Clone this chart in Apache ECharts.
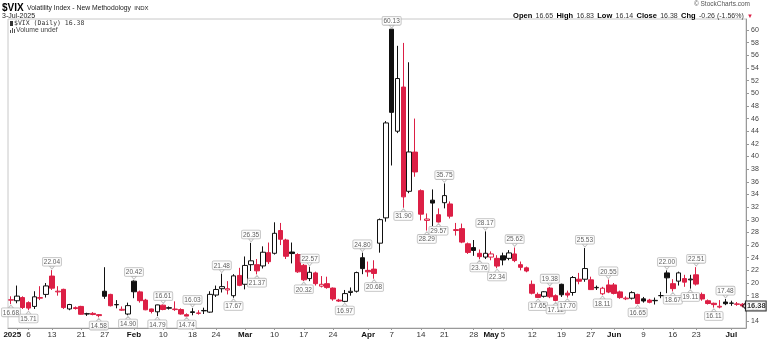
<!DOCTYPE html>
<html><head><meta charset="utf-8">
<script src="https://cdn.jsdelivr.net/npm/echarts@6/dist/echarts.min.js"></script>
<style>html,body{margin:0;padding:0;background:#fff}#c{width:767px;height:339px}</style>
</head><body><div id="c"></div>
<script>
const dates = [
'2024-12-31',
'2025-01-02','2025-01-03','2025-01-06','2025-01-07','2025-01-08','2025-01-10','2025-01-13','2025-01-14','2025-01-15','2025-01-16','2025-01-17','2025-01-21','2025-01-22','2025-01-23','2025-01-24','2025-01-27','2025-01-28','2025-01-29','2025-01-30','2025-01-31',
'2025-02-03','2025-02-04','2025-02-05','2025-02-06','2025-02-07','2025-02-10','2025-02-11','2025-02-12','2025-02-13','2025-02-14','2025-02-18','2025-02-19','2025-02-20','2025-02-21','2025-02-24','2025-02-25','2025-02-26','2025-02-27','2025-02-28',
'2025-03-03','2025-03-04','2025-03-05','2025-03-06','2025-03-07','2025-03-10','2025-03-11','2025-03-12','2025-03-13','2025-03-14','2025-03-17','2025-03-18','2025-03-19','2025-03-20','2025-03-21','2025-03-24','2025-03-25','2025-03-26','2025-03-27','2025-03-28','2025-03-31',
'2025-04-01','2025-04-02','2025-04-03','2025-04-04','2025-04-07','2025-04-08','2025-04-09','2025-04-10','2025-04-11','2025-04-14','2025-04-15','2025-04-16','2025-04-17','2025-04-21','2025-04-22','2025-04-23','2025-04-24','2025-04-25','2025-04-28','2025-04-29','2025-04-30',
'2025-05-01','2025-05-02','2025-05-05','2025-05-06','2025-05-07','2025-05-08','2025-05-09','2025-05-12','2025-05-13','2025-05-14','2025-05-15','2025-05-16','2025-05-19','2025-05-20','2025-05-21','2025-05-22','2025-05-23','2025-05-27','2025-05-28','2025-05-29','2025-05-30',
'2025-06-02','2025-06-03','2025-06-04','2025-06-05','2025-06-06','2025-06-09','2025-06-10','2025-06-11','2025-06-12','2025-06-13','2025-06-16','2025-06-17','2025-06-18','2025-06-20','2025-06-23','2025-06-24','2025-06-25','2025-06-26','2025-06-27','2025-06-30',
'2025-07-01','2025-07-02','2025-07-03'];

const opens = [17.30,
17.20,17.70,16.90,16.30,17.60,18.20,21.10,18.60,19.00,15.90,16.10,16.30,15.15,15.20,15.00,18.70,18.20,16.60,15.70,15.10,
20.30,18.60,17.30,15.90,15.45,16.50,16.10,15.80,15.80,15.00,15.45,15.20,15.60,15.40,18.10,19.10,18.90,18.00,21.20,
19.80,22.90,22.90,22.70,24.80,24.70,28.30,26.80,24.90,24.50,22.80,20.70,21.60,19.50,19.90,19.20,17.30,17.10,18.50,18.70,24.00,
22.00,22.20,26.30,30.30,60.13,44.00,50.98,34.50,40.70,34.60,29.90,33.10,30.80,32.70,32.50,28.30,28.60,26.20,25.60,24.70,24.10,
24.10,23.90,24.30,23.90,24.60,22.90,22.40,19.80,18.20,17.90,19.20,18.00,19.80,18.40,18.50,20.60,20.60,20.50,19.25,18.30,19.70,
19.70,18.60,17.50,17.60,18.20,17.50,17.30,17.20,18.00,21.60,19.90,20.30,20.70,20.50,21.30,18.20,17.20,16.80,16.20,17.00,
16.80,16.70,16.65];
const highs = [17.90,
19.60,17.90,17.10,18.70,19.50,20.00,22.04,19.50,19.10,16.70,16.30,16.40,15.30,15.40,15.10,22.50,18.30,17.30,16.30,16.90,
20.42,18.80,17.50,15.95,16.58,16.61,16.30,17.10,16.00,15.20,16.03,15.70,16.10,18.70,19.60,21.48,20.30,21.40,22.40,
24.20,26.35,23.80,25.80,26.40,29.60,29.50,27.00,26.40,24.70,23.00,22.57,21.80,21.10,21.00,19.30,17.50,18.90,19.30,21.80,24.80,
23.40,23.60,30.20,45.60,60.13,57.50,57.96,54.90,46.00,34.80,31.00,34.80,31.80,35.75,32.90,29.50,29.40,26.40,26.80,25.30,28.17,
25.00,24.40,24.80,25.20,25.62,23.40,22.60,20.40,18.50,18.70,19.38,18.20,19.90,18.80,21.10,21.60,25.53,21.00,19.60,19.40,20.55,
20.00,18.80,17.90,18.70,18.30,17.80,17.50,17.70,18.60,22.00,20.60,21.80,21.30,21.30,22.51,18.50,17.40,16.90,17.30,17.48,
17.20,17.00,16.83];
const lows = [16.68,
16.80,15.90,15.71,15.90,17.30,17.70,18.90,18.00,15.90,15.70,15.80,15.00,14.80,14.90,14.58,17.50,16.30,16.00,15.60,14.90,
17.60,16.90,15.70,15.20,14.79,15.70,15.80,15.60,15.00,14.74,14.90,15.00,15.10,15.30,17.80,18.50,18.20,17.67,19.50,
19.00,21.90,21.37,22.30,23.00,24.50,26.00,23.80,23.10,21.60,20.32,20.30,19.60,19.30,19.10,17.20,17.00,16.97,18.00,18.50,21.40,
21.00,20.68,24.80,29.70,38.58,43.70,31.90,34.20,36.80,29.90,28.29,29.00,29.57,31.80,30.20,27.50,26.30,24.60,24.30,23.76,23.80,
23.60,22.34,22.80,23.60,23.30,22.00,21.70,18.20,17.65,17.70,17.60,17.12,17.80,17.70,18.00,19.80,20.20,18.90,18.90,18.11,18.40,
18.20,17.50,17.30,17.40,16.65,16.90,16.80,16.60,17.60,18.40,18.67,19.60,19.40,19.11,19.60,17.20,16.60,16.11,16.00,16.50,
16.40,16.40,16.14];
const closes = [17.35,
17.93,16.13,16.04,17.82,17.70,19.54,19.19,18.71,16.12,16.60,15.97,15.06,15.10,15.02,14.85,17.90,16.41,16.56,15.84,16.43,
18.62,17.21,15.77,15.50,16.54,15.81,16.02,15.89,15.10,14.77,15.35,15.27,15.66,18.21,18.98,19.43,19.10,21.13,19.63,
22.78,23.51,21.93,24.87,23.37,27.86,26.92,24.23,24.66,21.77,20.51,21.70,19.90,19.80,19.28,17.48,17.15,18.33,18.69,21.65,22.28,
21.77,21.51,30.02,45.31,46.98,52.33,33.62,40.72,37.56,30.89,30.12,32.64,29.65,33.82,30.57,28.45,26.47,24.84,25.15,24.17,24.70,
24.60,22.68,23.64,24.76,23.55,22.48,21.90,18.39,17.72,18.62,17.83,17.24,18.14,18.09,20.87,20.28,22.29,18.96,19.31,19.18,18.57,
18.36,17.69,17.61,18.48,16.77,17.16,16.95,17.26,18.02,20.82,19.11,21.60,20.14,20.62,19.83,17.48,16.76,16.59,16.32,16.73,
16.83,16.64,16.38];
const prevClose = 17.40;

const yTicks = [14,16,18,20,22,24,26,28,30,32,34,36,38,40,42,44,46,48,50,52,54,56,58,60];
const tickDates = ['2025-01-02','2025-01-06','2025-01-13','2025-01-21','2025-01-27','2025-02-03','2025-02-10','2025-02-18','2025-02-24',
'2025-03-03','2025-03-10','2025-03-17','2025-03-24','2025-04-01','2025-04-07','2025-04-14','2025-04-21','2025-04-28','2025-05-01','2025-05-05',
'2025-05-12','2025-05-19','2025-05-27','2025-06-02','2025-06-09','2025-06-16','2025-06-23','2025-07-01'];
const tickTexts = ['2025','6','13','21','27','Feb','10','18','24','Mar','10','17','24','Apr','7','14','21','28','May','5','12','19','27','Jun','9','16','23','Jul'];

const annHighDates = ['2025-01-13','2025-02-03','2025-02-10','2025-02-18','2025-02-25','2025-03-04','2025-03-18','2025-03-31','2025-04-07','2025-04-21',
'2025-04-30','2025-05-07','2025-05-15','2025-05-23','2025-05-30','2025-06-13','2025-06-23','2025-06-30'];
const annLowDates = ['2024-12-31','2025-01-06','2025-01-24','2025-01-31','2025-02-07','2025-02-14','2025-02-27','2025-03-05','2025-03-17','2025-03-26',
'2025-04-02','2025-04-09','2025-04-15','2025-04-17','2025-04-29','2025-05-02','2025-05-13','2025-05-16','2025-05-20','2025-05-29','2025-06-06',
'2025-06-16','2025-06-20','2025-06-26'];

const quote = {open:'16.65', high:'16.83', low:'16.14', close:'16.38', chg:'-0.26 (-1.56%)'};

const RED = '#dc1f45', BLK = '#111';
const candleData = dates.map((d,i)=>{
  const o=opens[i], c=closes[i], l=lows[i], h=highs[i];
  const pc = i===0 ? prevClose : closes[i-1];
  const col = c >= pc ? BLK : RED;
  const fill = c > o ? '#fff' : col;
  return {value:[o,c,l,h], itemStyle:{color:fill,color0:fill,borderColor:col,borderColor0:col,borderWidth:1}};
});
const idxOf = {}; dates.forEach((d,i)=>idxOf[d]=i);
const highPts = annHighDates.map(d=>[d, highs[idxOf[d]]]);
const lowPts = annLowDates.map(d=>[d, lows[idxOf[d]]]);
const tickMap = {}; tickDates.forEach((d,i)=>tickMap[d]=tickTexts[i]);
const lastDate = dates[dates.length-1], lastClose = closes[closes.length-1];

const FONT = '"Liberation Sans", Arial, sans-serif';
const annLabel = {show:true, fontSize:6.5, lineHeight:7, fontFamily:FONT, color:'#333', backgroundColor:'#fff', borderColor:'#b0b0b0', borderWidth:0.8,
  borderRadius:1, padding:[1,1,0,1], formatter:p=>p.value[1].toFixed(2)};

const chart = echarts.init(document.getElementById('c'));
chart.setOption({
  animation:false,
  backgroundColor:'#fff',
  grid:{left:8, top:19, width:738, height:309, show:true, borderColor:'#c8c8c8', borderWidth:1},
  xAxis:{type:'category', data:dates, boundaryGap:true,
    axisLine:{lineStyle:{color:'#999'}},
    axisTick:{show:true, length:2, alignWithLabel:true, interval:(i,v)=>v in tickMap, lineStyle:{color:'#999'}},
    axisLabel:{interval:(i,v)=>v in tickMap, margin:3, fontSize:8, fontFamily:FONT, color:'#333',
      formatter:v=>{const t=tickMap[v]||''; return /^\d+$/.test(t)&&t.length<4 ? t : (t.length===4 ? '{y|'+t+'}' : '{m|'+t+'}');},
      rich:{m:{fontWeight:'bold', fontSize:8, fontFamily:FONT, color:'#111'},
            y:{fontWeight:'bold', fontSize:8, fontFamily:FONT, color:'#111', padding:[0,9,0,0]}}},
    splitLine:{show:false}},
  yAxis:{type:'value', position:'right', min:12.89, max:61.74, scale:true,
    axisLine:{show:true, lineStyle:{color:'#999'}},
    axisTick:{show:true, length:3, customValues:yTicks, lineStyle:{color:'#999'}},
    axisLabel:{customValues:yTicks, fontSize:7, fontFamily:FONT, color:'#444', margin:5},
    splitLine:{show:false}},
  series:[
    {type:'candlestick', name:'$VIX', data:candleData, barWidth:5},
    {type:'scatter', name:'hi', data:highPts, symbol:'triangle', symbolRotate:180, symbolSize:[5,3], symbolOffset:[0,-2.5],
      itemStyle:{color:'#fff', borderColor:'#b0b0b0', borderWidth:0.8}, label:Object.assign({position:'top', distance:0}, annLabel), z:5},
    {type:'scatter', name:'lo', data:lowPts, symbol:'triangle', symbolSize:[5,3], symbolOffset:[0,2.5],
      itemStyle:{color:'#fff', borderColor:'#b0b0b0', borderWidth:0.8}, label:Object.assign({position:'bottom', distance:0}, annLabel), z:5},
    {type:'scatter', name:'last', data:[[lastDate, lastClose]], symbol:'triangle', symbolRotate:90, symbolSize:[6,3], symbolOffset:[1,0],
      itemStyle:{color:'#fff', borderColor:'#000', borderWidth:1}, clip:false, z:10,
      label:{show:true, position:'right', distance:0, formatter:p=>p.value[1].toFixed(2), fontSize:7.5, fontWeight:'bold', fontFamily:FONT,
        color:'#000', backgroundColor:'#fff', borderColor:'#000', borderWidth:1, padding:[1,0,0,1]}}
  ],
  graphic:[
    {type:'text', left:2, top:2, style:{text:'{a|$VIX} {b|Volatility Index - New Methodology} {c|INDX}',
      rich:{a:{fontSize:10, fontWeight:'bold', fontFamily:FONT, fill:'#000'}, b:{fontSize:6.8, fontFamily:FONT, fill:'#222'}, c:{fontSize:6, fontFamily:FONT, fill:'#222'}}}},
    {type:'text', left:2, top:13, style:{text:'3-Jul-2025', fontSize:7, fontFamily:FONT, fill:'#222'}},
    {type:'text', right:17, top:1, style:{text:'© StockCharts.com', fontSize:6.5, fontFamily:FONT, fill:'#555', align:'right'}},
    {type:'text', right:14, top:10, style:{
      text:'{l|Open} {v|'+quote.open+'} {l|High} {v|'+quote.high+'} {l|Low} {v|'+quote.low+'} {l|Close} {v|'+quote.close+'} {l|Chg} {v|'+quote.chg+'} {r|▼}',
      rich:{l:{fontSize:7.5, fontWeight:'bold', fontFamily:FONT, fill:'#000'}, v:{fontSize:7, fontFamily:FONT, fill:'#333'}, r:{fontSize:6, fill:RED}}}},
    {type:'rect', left:10, top:21, shape:{width:3, height:5}, style:{fill:'#333'}},
    {type:'text', left:14, top:20, style:{text:'$VIX (Daily) 16.38', fontSize:6.5, fontFamily:'"DejaVu Sans Mono", monospace', fill:'#333'}},
    {type:'rect', left:10, top:30, shape:{width:1, height:3}, style:{fill:'#555'}},
    {type:'rect', left:12, top:28, shape:{width:1, height:5}, style:{fill:'#555'}},
    {type:'rect', left:14, top:29, shape:{width:1, height:4}, style:{fill:'#555'}},
    {type:'text', left:16, top:27, style:{text:'Volume undef', fontSize:6.8, fontFamily:FONT, fill:'#444'}}
  ]
});
</script></body></html>
